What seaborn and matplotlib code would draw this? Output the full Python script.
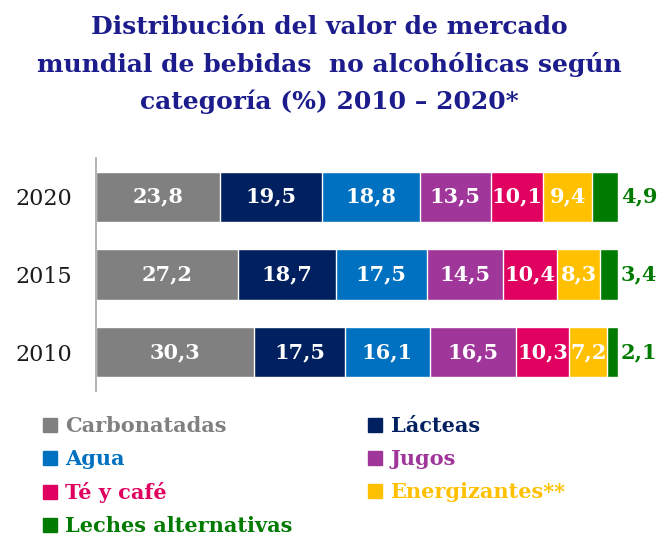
import pandas as pd
import matplotlib.pyplot as plt
import seaborn as sns
import numpy as np
from matplotlib.lines import Line2D

# datos
years = ['2020', '2015', '2010']
categorias = ['Carbonatadas', 'Lácteas', 'Agua', 'Jugos', 'Té y café',
              'Energizantes**', 'Leches alternativas']
colores = ['#808080', '#002060', '#0070C0', '#A0359A', '#E0005F', '#FFC000', '#007A00']

carbonatadas = [23.8, 27.2, 30.3]
lacteas = [19.5, 18.7, 17.5]
agua = [18.8, 17.5, 16.1]
jugos = [13.5, 14.5, 16.5]
te_cafe = [10.1, 10.4, 10.3]
energizantes = [9.4, 8.3, 7.2]
leches_alt = [4.9, 3.4, 2.1]

datos = pd.DataFrame({'year': years,
                      categorias[0]: carbonatadas,
                      categorias[1]: lacteas,
                      categorias[2]: agua,
                      categorias[3]: jugos,
                      categorias[4]: te_cafe,
                      categorias[5]: energizantes,
                      categorias[6]: leches_alt})
acum = datos[categorias].cumsum(axis=1)
acum['year'] = years

sns.set_style('white')
plt.rcParams['font.family'] = ['DejaVu Serif', 'DejaVu Sans']

fig = plt.figure(figsize=(6.59, 5.36), dpi=100)
ax = fig.add_axes([96 / 659, 1 - 391 / 536, 1 - 96 / 659, 233 / 536])

# barras apiladas: se dibuja el acumulado de mayor a menor
for i in reversed(range(len(categorias))):
    sns.barplot(data=acum, x=categorias[i], y='year', order=years, orient='h',
                color=colores[i], saturation=1, width=0.65, ax=ax)

# etiquetas de valores
for j, yr in enumerate(years):
    for i, cat in enumerate(categorias):
        v = datos[cat][j]
        txt = f"{v:.1f}".replace('.', ',')
        if i == len(categorias) - 1:
            ax.text(acum[cat][j] + 0.6, j, txt, ha='left', va='center',
                    color=colores[i], fontsize=15, fontweight='bold')
        else:
            ax.text(acum[cat][j] - v / 2, j, txt, ha='center', va='center',
                    color='white', fontsize=15, fontweight='bold')

ax.set_xlim(0, 100 * (659 - 97) / 521)
ax.set_ylim(2.5, -0.5)
ax.set_xlabel('')
ax.set_ylabel('')
ax.set_xticks([])
for s in ['top', 'right', 'bottom']:
    ax.spines[s].set_visible(False)
ax.spines['left'].set_color('#a6a6a6')
ax.spines['left'].set_linewidth(1.2)
ax.set_yticks([0, 1, 2])
ax.set_yticklabels(years, fontsize=16, color='#1a1a1a')
ax.tick_params(axis='y', which='major', length=0, pad=17)
ax.set_yticks([-0.5, 0.5, 1.5, 2.5], minor=True)
ax.tick_params(axis='y', which='minor', length=5, color='#a6a6a6', width=1.2)

# titulo
fig.text(0.5, 1 - 15 / 536,
         'Distribución del valor de mercado\n'
         'mundial de bebidas  no alcohólicas según\n'
         'categoría (%) 2010 – 2020*',
         ha='center', va='top', fontsize=18, fontweight='bold',
         color='#1C1C8C', linespacing=1.65)

# leyenda en dos columnas (orden por columnas)
orden = [0, 2, 4, 6, 1, 3, 5]
handles = [Line2D([], [], marker='s', ls='', color=colores[k], markersize=10)
           for k in orden]
labels = [categorias[k] for k in orden]
leg = fig.legend(handles, labels, ncol=2, loc='upper left',
                 bbox_to_anchor=(34 / 659, 1 - 408 / 536), frameon=False,
                 prop={'family': 'DejaVu Serif', 'weight': 'bold', 'size': 15},
                 handlelength=0.7, handletextpad=0.4, columnspacing=3.6,
                 labelspacing=0.62, borderaxespad=0)
for t, k in zip(leg.get_texts(), orden):
    t.set_color(colores[k])

fig.savefig('out.png', dpi=100)
